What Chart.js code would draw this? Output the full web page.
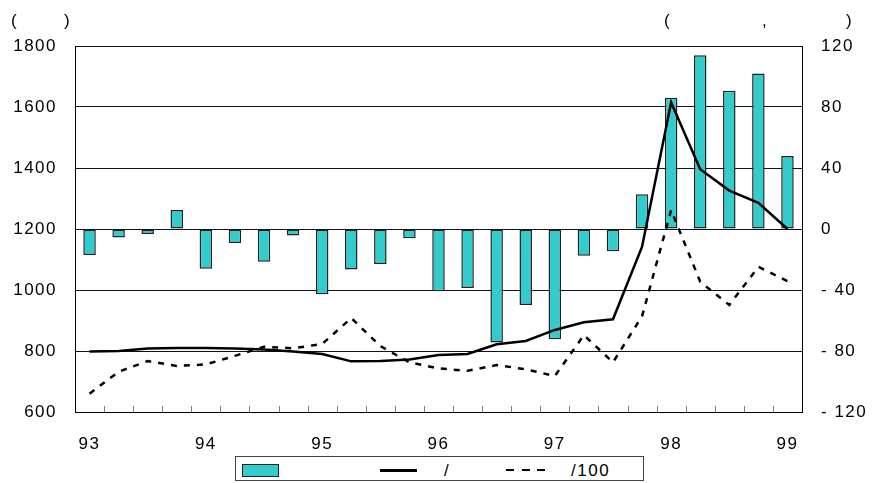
<!DOCTYPE html>
<html>
<head>
<meta charset="utf-8">
<script src="https://cdn.jsdelivr.net/npm/chart.js@4/dist/chart.umd.min.js"></script>
<style>
  html, body { margin: 0; padding: 0; background: #fff; }
  #wrap { position: relative; width: 875px; height: 483px; overflow: hidden; font-family: 'Liberation Sans', Arial, sans-serif; }
  #c { position: absolute; left: 0; top: 0; }
  .t { position: absolute; font-size: 17px; line-height: 17px; letter-spacing: 1.5px; color: #000; white-space: pre; }
  #legend { position: absolute; left: 235px; top: 456px; width: 409px; height: 25px; border: 1px solid #444; box-sizing: border-box; background: #fff; }
  .sw { position: absolute; box-sizing: border-box; }
</style>
</head>
<body>
<div id="wrap">
  <canvas id="c" width="875" height="483"></canvas>
  <span class="t" style="left:11px; top:12px;">(</span>
  <span class="t" style="left:64px; top:12px;">)</span>
  <span class="t" style="left:664px; top:12px;">(</span>
  <span class="t" style="left:762px; top:12px;">,</span>
  <span class="t" style="left:846px; top:12px;">)</span>
  <div id="legend"></div>
  <div class="sw" style="left:242px; top:464px; width:37px; height:13px; background:#33CCCC; border:1px solid #222;"></div>
  <div class="sw" style="left:380px; top:469px; width:37px; height:3px; background:#000;"></div>
  <span class="t" style="left:444px; top:462px;">/</span>
  <div class="sw" style="left:506px; top:469px; width:8px; height:2px; background:#000;"></div>
  <div class="sw" style="left:522px; top:469px; width:8px; height:2px; background:#000;"></div>
  <div class="sw" style="left:537px; top:469px; width:8px; height:2px; background:#000;"></div>
  <span class="t" style="left:571px; top:462px;">/100</span>
</div>
<script>
const categories = ['93','','','','94','','','','95','','','','96','','','','97','','','','98','','','','99'];
const barValues = [-17,-5.5,-3.3,12.5,-26,-9.2,-21.4,-4.2,-42.8,-26.5,-23,-6.1,-40.9,-38.7,-74.5,-49.8,-72.3,-17.5,-14.6,22.8,86.1,113.9,90.7,101.9,47.9];
const solidValues = [798,800,808,810,810,808,805,798,790,766,767,772,787,790,822,833,869,894,904,1142,1615,1396,1326,1286,1200];
const dashedValues = [660,732,767,751,756,784,814,809,823,908,816,763,743,735,754,740,718,852,763,914,1262,1027,951,1076,1029];
const leftTicks = { min: 600, max: 1800, step: 200 };
const rightTicks = { min: -120, max: 120, step: 40 };

const FONT = { family: "'Liberation Sans', Arial, sans-serif", size: 17 };

const spacingPlugin = {
  id: 'spacing',
  beforeDraw(chart) { chart.ctx.letterSpacing = '1.5px'; },
  afterDraw(chart) {
    const ctx = chart.ctx;
    const xs = chart.scales.x;
    const bottom = chart.chartArea.bottom;
    ctx.save();
    ctx.strokeStyle = '#808080';
    ctx.lineWidth = 1;
    for (let i = 1; i < categories.length; i++) {
      const x = Math.round((xs.getPixelForValue(i - 1) + xs.getPixelForValue(i)) / 2) + 0.5;
      ctx.beginPath();
      ctx.moveTo(x, bottom);
      ctx.lineTo(x, bottom - 6);
      ctx.stroke();
    }
    ctx.restore();
  }
};

new Chart(document.getElementById('c'), {
  type: 'bar',
  data: {
    labels: categories,
    datasets: [
      { type: 'line', label: '/', data: solidValues, yAxisID: 'y', borderColor: '#000', borderWidth: 2.5, pointRadius: 0, tension: 0, order: 0 },
      { type: 'line', label: '/100', data: dashedValues, yAxisID: 'y', borderColor: '#000', borderWidth: 2.5, borderDash: [6, 7], pointRadius: 0, tension: 0, order: 0 },
      { type: 'bar', label: ' ', data: barValues, yAxisID: 'y1', backgroundColor: '#33CCCC', borderColor: '#222', borderWidth: 1.5, borderSkipped: false, categoryPercentage: 1, barPercentage: 0.43, order: 1 }
    ]
  },
  options: {
    responsive: false,
    animation: false,
    devicePixelRatio: 1,
    layout: { padding: { top: 46, left: 0, right: 0, bottom: 0 } },
    plugins: { legend: { display: false }, tooltip: { enabled: false } },
    scales: {
      x: {
        grid: { offset: true, drawOnChartArea: false, drawTicks: false },
        border: { color: '#000', width: 1 },
        ticks: { autoSkip: false, maxRotation: 0, minRotation: 0, color: '#000', font: FONT, padding: 22 },
        afterFit(s) { s.height = 71; }
      },
      y: {
        position: 'left',
        min: leftTicks.min, max: leftTicks.max,
        grid: { color: '#111', lineWidth: 1, drawTicks: false },
        border: { color: '#000', width: 1 },
        ticks: { stepSize: leftTicks.step, color: '#000', font: FONT, padding: 18, callback: v => String(v) },
        afterFit(s) { s.width = 75; }
      },
      y1: {
        position: 'right',
        min: rightTicks.min, max: rightTicks.max,
        grid: { drawOnChartArea: false, drawTicks: false },
        border: { color: '#000', width: 1 },
        ticks: { stepSize: rightTicks.step, color: '#000', font: FONT, padding: 19,
          callback: v => v < 0 ? '- ' + Math.abs(v) : String(v) },
        afterFit(s) { s.width = 73; }
      }
    }
  },
  plugins: [spacingPlugin]
});
</script>
</body>
</html>
